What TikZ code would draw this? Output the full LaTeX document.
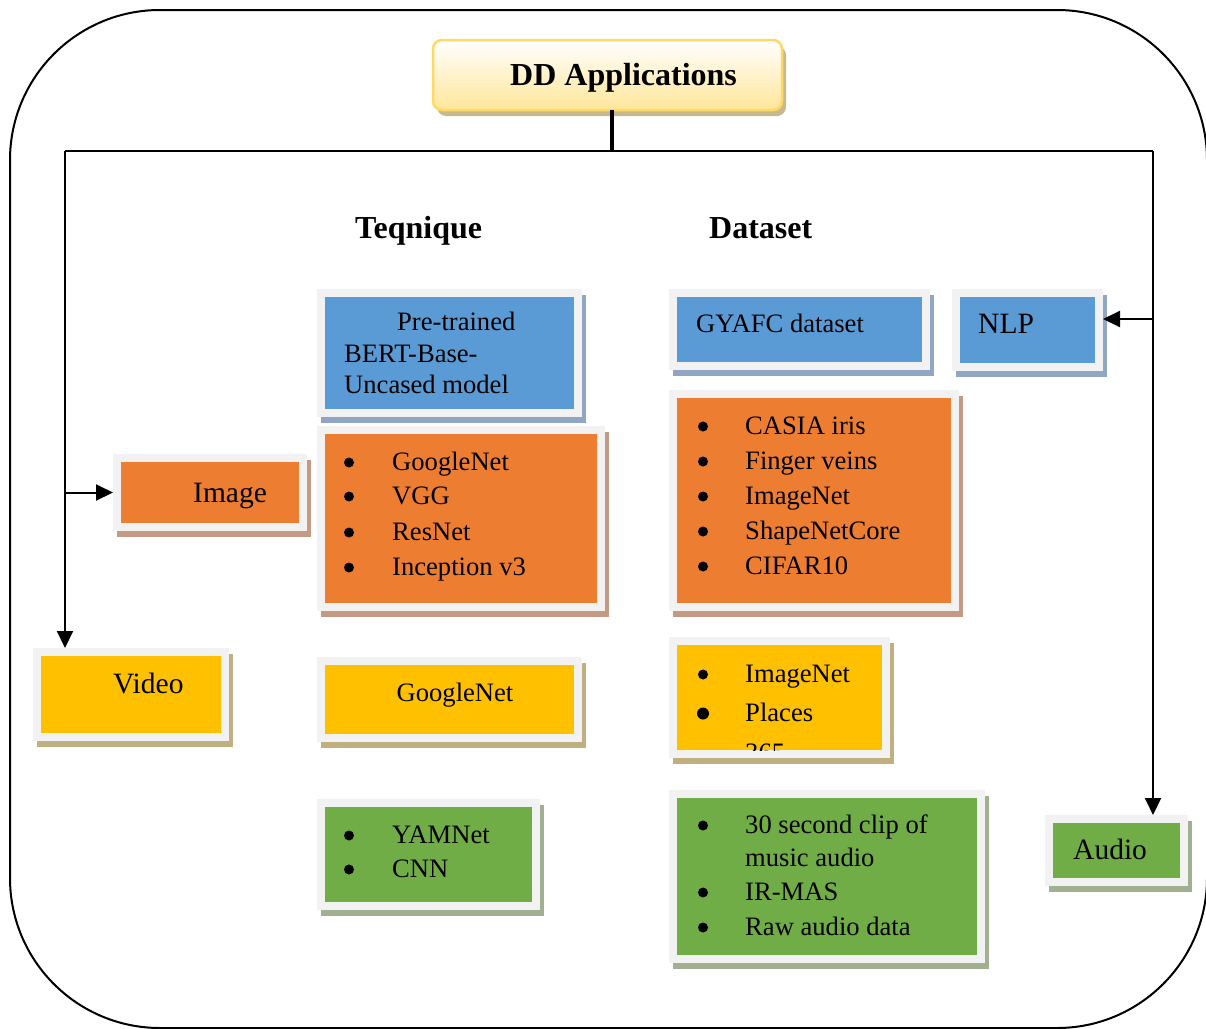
\documentclass[tikz,border=0pt]{standalone}
\usepackage{fontspec}
\setmainfont{Liberation Serif}
\usetikzlibrary{arrows.meta,shadows}

\definecolor{framegray}{HTML}{F2F2F2}
\definecolor{cblue}{HTML}{5B9BD5}
\definecolor{sblue}{RGB}{143,166,196}
\definecolor{corange}{HTML}{ED7D31}
\definecolor{sorange}{RGB}{196,154,130}
\definecolor{cyellow}{HTML}{FFC000}
\definecolor{syellow}{RGB}{192,175,128}
\definecolor{cgreen}{HTML}{70AD47}
\definecolor{sgreen}{RGB}{160,176,145}
\definecolor{titleedge}{HTML}{FFD966}
\definecolor{titlefill}{HTML}{FFE699}
\definecolor{titleshadow}{RGB}{200,185,140}

\tikzset{
  panel/.style 2 args={anchor=north west, inner sep=0pt, outer sep=0pt, fill=framegray,
    drop shadow={shadow xshift=4pt, shadow yshift=-6pt, fill=#2, opacity=1},
    path picture={\fill[#1] ([shift={(8pt,-8pt)}]path picture bounding box.north west)
      rectangle ([shift={(-8pt,8pt)}]path picture bounding box.south east);}},
  titlebox/.style={anchor=north west, inner sep=0pt, outer sep=0pt, rounded corners=9pt,
    draw=titleedge, line width=2.5pt, top color=white, bottom color=titlefill,
    drop shadow={shadow xshift=4pt, shadow yshift=-6pt, fill=titleshadow, opacity=1}},
  body/.style={font=\fontsize{26.6}{30}\selectfont, inner sep=0pt, anchor=base west},
  big/.style={font=\fontsize{29.5}{34}\selectfont, inner sep=0pt, anchor=base west},
  head/.style={font=\fontsize{32}{38}\selectfont\bfseries, inner sep=0pt, anchor=base west},
  dot/.style={circle, fill=black, inner sep=0pt, minimum size=10pt, yshift=7.5pt},
  link/.style={line width=2pt},
  tip/.style={-{Triangle[length=17pt,width=16pt]}}
}

\begin{document}
\begin{tikzpicture}[x=1pt,y=-1pt]
\useasboundingbox (0,0) rectangle (1206,1028);

% outer frame
\draw[line width=2pt, rounded corners=150pt] (10,10) rectangle (1207,1028);

% title
\node[titlebox, minimum width=349pt, minimum height=70pt] (title) at (433,40) {};
\node[head] (t-title) at (510,85) {DD Applications};

% column headings
\node[head] (h-tech) at (355,238) {Teqnique};
\node[head] (h-data) at (709,238) {Dataset};

% category boxes
\node[panel={cblue}{sblue}, minimum width=151pt, minimum height=82pt] (nlp) at (952,289) {};
\node[big] (t-nlp) at (978,333) {NLP};
\node[panel={corange}{sorange}, minimum width=194pt, minimum height=77pt] (image) at (113,454) {};
\node[big] (t-image) at (193,502) {Image};
\node[panel={cyellow}{syellow}, minimum width=196pt, minimum height=93pt] (video) at (33,648) {};
\node[big] (t-video) at (113,693) {Video};
\node[panel={cgreen}{sgreen}, minimum width=143pt, minimum height=71pt] (audio) at (1045,815) {};
\node[big] (t-audio) at (1073,859) {Audio};

% NLP row
\node[panel={cblue}{sblue}, minimum width=265pt, minimum height=128pt] (bert) at (317,289) {};
\node[body] (t-bert1) at (397,330) {Pre-trained};
\node[body] (t-bert2) at (344,362) {BERT-Base-};
\node[body] (t-bert3) at (344,393) {Uncased model};
\node[panel={cblue}{sblue}, minimum width=261pt, minimum height=81pt] (gyafc) at (669,289) {};
\node[body] (t-gyafc) at (696,332) {GYAFC dataset};

% image row
\node[panel={corange}{sorange}, minimum width=288pt, minimum height=185pt] (imgtech) at (317,426) {};
\foreach \y/\t [count=\i] in {470/GoogleNet, 504/VGG, 540/ResNet, 575/Inception v3}{
  \node[dot] (it-d\i) at (349,\y) {};
  \node[body] (it-t\i) at (392,\y) {\t};
}
\node[panel={corange}{sorange}, minimum width=290pt, minimum height=221pt] (imgdata) at (669,390) {};
\foreach \y/\t [count=\i] in {434/CASIA iris, 469/Finger veins, 504/ImageNet, 539/ShapeNetCore, 574/CIFAR10}{
  \node[dot] (id-d\i) at (703,\y) {};
  \node[body] (id-t\i) at (745,\y) {\t};
}

% video row
\node[panel={cyellow}{syellow}, minimum width=265pt, minimum height=85pt] (vidtech) at (317,657) {};
\node[body, anchor=base] (vt-t1) at (455,701) {GoogleNet};
\node[panel={cyellow}{syellow}, minimum width=221pt, minimum height=121pt] (viddata) at (669,637) {};
\node[dot] (vd-d1) at (703,682) {};
\node[body] (vd-t1) at (745,682) {ImageNet};
\node[dot, minimum size=12pt] (vd-d2) at (703,721) {};
\node[body] (vd-t2) at (745,721) {Places};
\begin{scope}
  \clip (677,645) rectangle (882,750);
  \node[body] (vd-t3) at (745,761) {365};
\end{scope}

% audio row
\node[panel={cgreen}{sgreen}, minimum width=223pt, minimum height=111pt] (audtech) at (317,799) {};
\foreach \y/\t [count=\i] in {843/YAMNet, 877/CNN}{
  \node[dot] (at-d\i) at (349,\y) {};
  \node[body] (at-t\i) at (392,\y) {\t};
}
\node[panel={cgreen}{sgreen}, minimum width=316pt, minimum height=173pt] (auddata) at (669,790) {};
\node[dot] (ad-d1) at (703,833) {};
\node[body] (ad-t1) at (745,833) {30 second clip of};
\node[body] (ad-t2) at (745,866) {music audio};
\node[dot] (ad-d3) at (703,900) {};
\node[body] (ad-t3) at (745,900) {IR-MAS};
\node[dot] (ad-d4) at (703,935) {};
\node[body] (ad-t4) at (745,935) {Raw audio data};

% connectors
\coordinate (jl) at (65,151);
\coordinate (jr) at (1153,151);
\coordinate (stem) at (612,151);
\draw[line width=3.5pt] (stem |- title.south) -- (stem);
\draw[link] (jl) -- (jr);
\draw[link, tip] (jl) -- (jl |- video.north);
\draw[link, tip] (jl |- image.west) -- (image.west);
\draw[link, tip] (jr) -- (jr |- audio.north);
\draw[link, tip] ([yshift=11pt]jr |- nlp.east) -- ([yshift=11pt]nlp.east);
\end{tikzpicture}
\end{document}
